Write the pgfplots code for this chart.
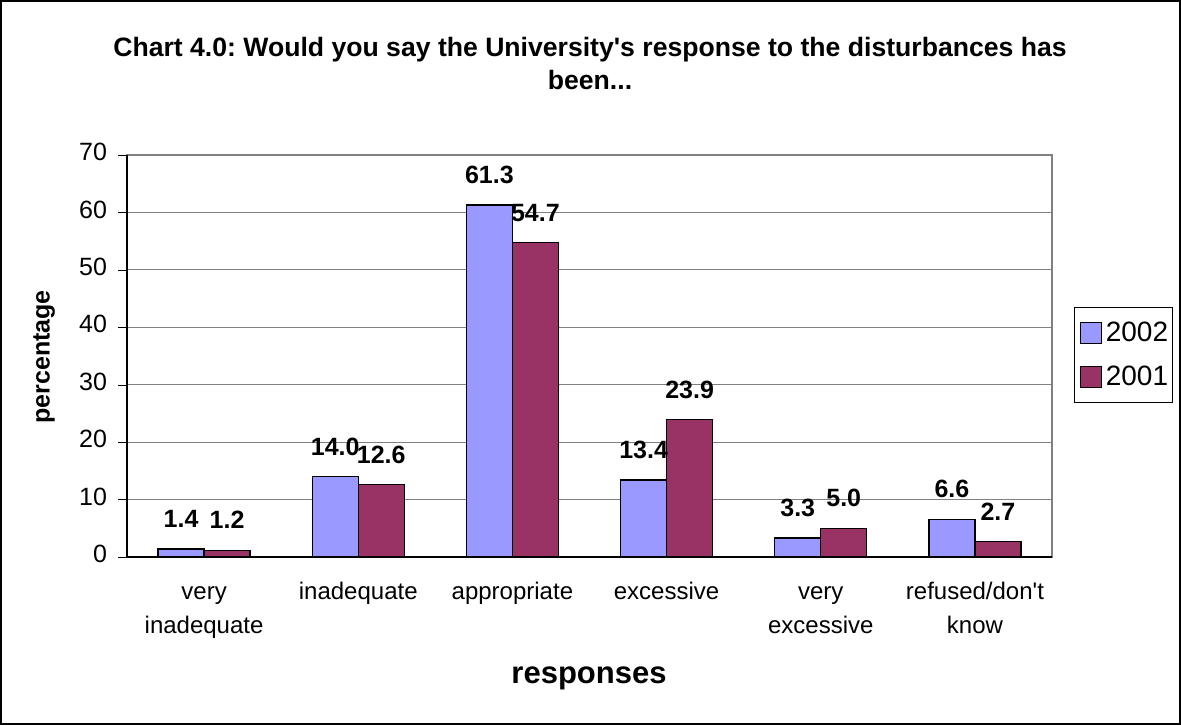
\documentclass[border=0pt]{standalone}
\usepackage{pgfplots}
\pgfplotsset{compat=1.18}
\usepackage{fontspec}
\setmainfont{Liberation Sans}
\definecolor{bar02}{HTML}{9999FF}
\definecolor{bar01}{HTML}{993366}
\definecolor{gridgray}{HTML}{808080}
\frenchspacing

\begin{document}
\begin{tikzpicture}
\useasboundingbox (0,0) rectangle (590.5pt,362.5pt);
\draw[black, line width=0.8pt] (0.5pt,0.5pt) rectangle (590pt,362pt);

\node[font=\bfseries\fontsize{13.3}{16.5}\selectfont, align=center] at (295pt,331pt)
  {Chart 4.0: Would you say the University\textquotesingle s response to the disturbances has\\been...};

\begin{axis}[
    at={(63.5pt,84pt)}, anchor=south west,
    scale only axis,
    width=462.5pt, height=201pt,
    ybar=0pt, bar width=23pt,
    xmin=-0.5, xmax=5.5,
    ymin=0, ymax=70,
    ytick={0,10,...,70},
    xtick={0,...,5},
    xticklabels={{very\\inadequate},inadequate,appropriate,excessive,{very\\excessive},{refused/don\textquotesingle t\\know}},
    typeset ticklabels with strut,
    xticklabel style={align=center, font=\fontsize{12}{17}\selectfont, yshift=-1.5pt},
    yticklabel style={font=\fontsize{12.5}{14}\selectfont, xshift=-2pt},
    /pgf/number format/assume math mode=true,
    x tick style={draw=none},
    extra x ticks={-0.5,0.5,...,5.5},
    extra x tick labels={},
    extra x tick style={major tick length=4.5pt, tick style={black, draw=black}},
    tick align=outside, ytick pos=left, xtick pos=bottom,
    major tick length=4.5pt,
    y tick style={black},
    ymajorgrids, grid style={gridgray, line width=0.6pt},
    axis line style={gridgray, line width=0.6pt},
    nodes near coords={\pgfmathprintnumber[fixed,fixed zerofill,precision=1,assume math mode=true]{\pgfplotspointmeta}},
    nodes near coords style={font=\bfseries\fontsize{12.5}{14}\selectfont, yshift=7pt},
    legend style={at={(1.0238,0.5025)}, anchor=west, draw=black, line width=0.6pt,
        font=\fontsize{14}{16}\selectfont, row sep=7pt, inner xsep=0pt, inner ysep=5pt,
        nodes={inner xsep=2pt}},
    legend cell align=left,
    clip=false,
]
\addplot[fill=bar02, draw=black, line width=0.6pt, legend image code/.code={\draw[fill=bar02, draw=black, line width=0.6pt] (2.5pt,-5.25pt) rectangle (13pt,5.25pt); \path (0pt,0pt);}] coordinates {
    (0,1.4) (1,14.0) (2,61.3) (3,13.4) (4,3.3) (5,6.6)
};
\addlegendentry{2002}
\addplot[fill=bar01, draw=black, line width=0.6pt, legend image code/.code={\draw[fill=bar01, draw=black, line width=0.6pt] (2.5pt,-5.25pt) rectangle (13pt,5.25pt); \path (0pt,0pt);}] coordinates {
    (0,1.2) (1,12.6) (2,54.7) (3,23.9) (4,5.0) (5,2.7)
};
\addlegendentry{2001}
\draw[black, line width=0.8pt] (rel axis cs:0,1) -- (rel axis cs:0,0) -- (rel axis cs:1,0);
\end{axis}

\node[font=\bfseries\fontsize{15.5}{18}\selectfont] at (294.5pt,23.5pt) {responses};
\node[font=\bfseries\fontsize{12.5}{14}\selectfont, rotate=90] at (22pt,184pt) {percentage};
\end{tikzpicture}
\end{document}
